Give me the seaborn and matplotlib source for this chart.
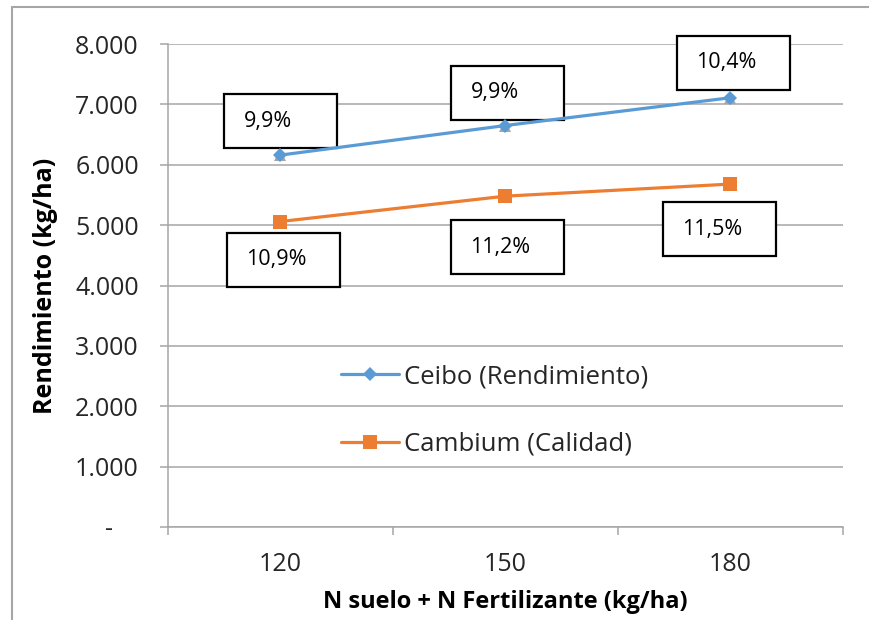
import matplotlib
matplotlib.use("Agg")
import matplotlib.pyplot as plt
import seaborn as sns
import pandas as pd
from matplotlib.patches import Rectangle
from matplotlib.lines import Line2D
from matplotlib.transforms import Affine2D, ScaledTranslation
from matplotlib.ticker import FuncFormatter, FixedLocator

# ---- data ----
n_total = ["120", "150", "180"]
ceibo = [6160, 6650, 7110]
cambium = [5060, 5480, 5680]
ceibo_prot = ["9,9%", "9,9%", "10,4%"]
cambium_prot = ["10,9%", "11,2%", "11,5%"]
series_names = ["Ceibo (Rendimiento)", "Cambium (Calidad)"]

# ---- style ----
sns.set_theme(style="white")
plt.rcParams["font.family"] = ["Open Sans", "DejaVu Sans"]

BLUE = "#5B9BD5"
ORANGE = "#ED7D31"
GRID = "#A6A6A6"

df_ceibo = pd.DataFrame({"N": n_total, "Rend": ceibo})
df_camb = pd.DataFrame({"N": n_total, "Rend": cambium})

fig = plt.figure(figsize=(8.7, 6.2), dpi=100)
ax = fig.add_axes([168 / 870, 93 / 620, 675 / 870, 483 / 620])

# hidden grey series under the diamonds
sns.lineplot(data=df_ceibo, x="N", y="Rend", ax=ax, color="#A5A5A5",
             linestyle="", marker="^", markersize=8, markeredgewidth=0,
             zorder=2.5, legend=False)
sns.lineplot(data=df_ceibo, x="N", y="Rend", ax=ax, color=BLUE, linewidth=2.3,
             marker="D", markersize=7.5, markeredgewidth=0, zorder=3,
             label=series_names[0])
sns.lineplot(data=df_camb, x="N", y="Rend", ax=ax, color=ORANGE, linewidth=2.3,
             marker="s", markersize=10, markeredgewidth=0, zorder=3,
             label=series_names[1])

ax.set_xlim(-0.5, 2.5)
ax.set_ylim(0, 8000)
ax.yaxis.set_major_locator(FixedLocator(range(0, 8001, 1000)))
ax.yaxis.set_major_formatter(FuncFormatter(
    lambda v, p: f"{int(v):,}".replace(",", ".") if v else "-    "))
ax.grid(axis="y", color=GRID, linewidth=1.1)
ax.grid(axis="x", visible=False)
ax.set_axisbelow(True)

for s in ["top", "right"]:
    ax.spines[s].set_visible(False)
for s in ["left", "bottom"]:
    ax.spines[s].set_color(GRID)
    ax.spines[s].set_linewidth(1.1)

ax.tick_params(axis="y", which="major", length=6, width=1.1, color=GRID,
               direction="out", left=True, pad=15, labelsize=18,
               labelcolor="#262626")
ax.set_xticks([0, 1, 2])
ax.set_xticklabels(n_total)
ax.set_xticks([-0.5, 0.5, 1.5, 2.5], minor=True)
ax.tick_params(axis="x", which="major", length=0, pad=18, labelsize=18,
               labelcolor="#262626")
ax.tick_params(axis="x", which="minor", length=6, width=1.1, color=GRID,
               direction="out", bottom=True)

ax.set_xlabel("N suelo + N Fertilizante (kg/ha)", fontsize=17,
              fontweight="bold", labelpad=9, color="black")
ax.set_ylabel("Rendimiento (kg/ha)", fontsize=18, fontweight="bold",
              labelpad=12, color="black")

# ---- label boxes (offsets in pixels from each point: box left, box bottom)
BOX_W, BOX_H = 113, 54
ceibo_off = [(-56, 7), (-54, 6), (-53, 8)]
camb_off = [(-53, -65), (-54, -78), (-67, -72)]

def add_box(xi, yv, txt, off):
    dx, dy = off
    tr = Affine2D().translate(dx, dy) + ScaledTranslation(xi, yv, ax.transData)
    ax.add_patch(Rectangle((0, 0), BOX_W, BOX_H, transform=tr,
                           facecolor="white", edgecolor="black",
                           linewidth=1.6, zorder=2.2, clip_on=False))
    ax.annotate(txt, xy=(xi, yv), xytext=(dx + 19, dy + BOX_H / 2),
                textcoords="offset pixels", ha="left", va="center",
                fontsize=15.5, color="black", zorder=4, annotation_clip=False)

for i, (v, t) in enumerate(zip(ceibo, ceibo_prot)):
    add_box(i, v, t, ceibo_off[i])
for i, (v, t) in enumerate(zip(cambium, cambium_prot)):
    add_box(i, v, t, camb_off[i])

leg = ax.legend(loc="upper left", bbox_to_anchor=(0.256, 0.337), frameon=False,
                fontsize=18.5, handlelength=2.25, handletextpad=0.2,
                labelspacing=1.65, borderpad=0, borderaxespad=0)

# outer chart border
fig.add_artist(Line2D([12 / 870, 12 / 870], [0, 1 - 7 / 620],
                      transform=fig.transFigure, color=GRID, linewidth=1.5))
fig.add_artist(Line2D([12 / 870, 1], [1 - 7 / 620, 1 - 7 / 620],
                      transform=fig.transFigure, color=GRID, linewidth=1.5))

fig.savefig("out.png", dpi=100)
